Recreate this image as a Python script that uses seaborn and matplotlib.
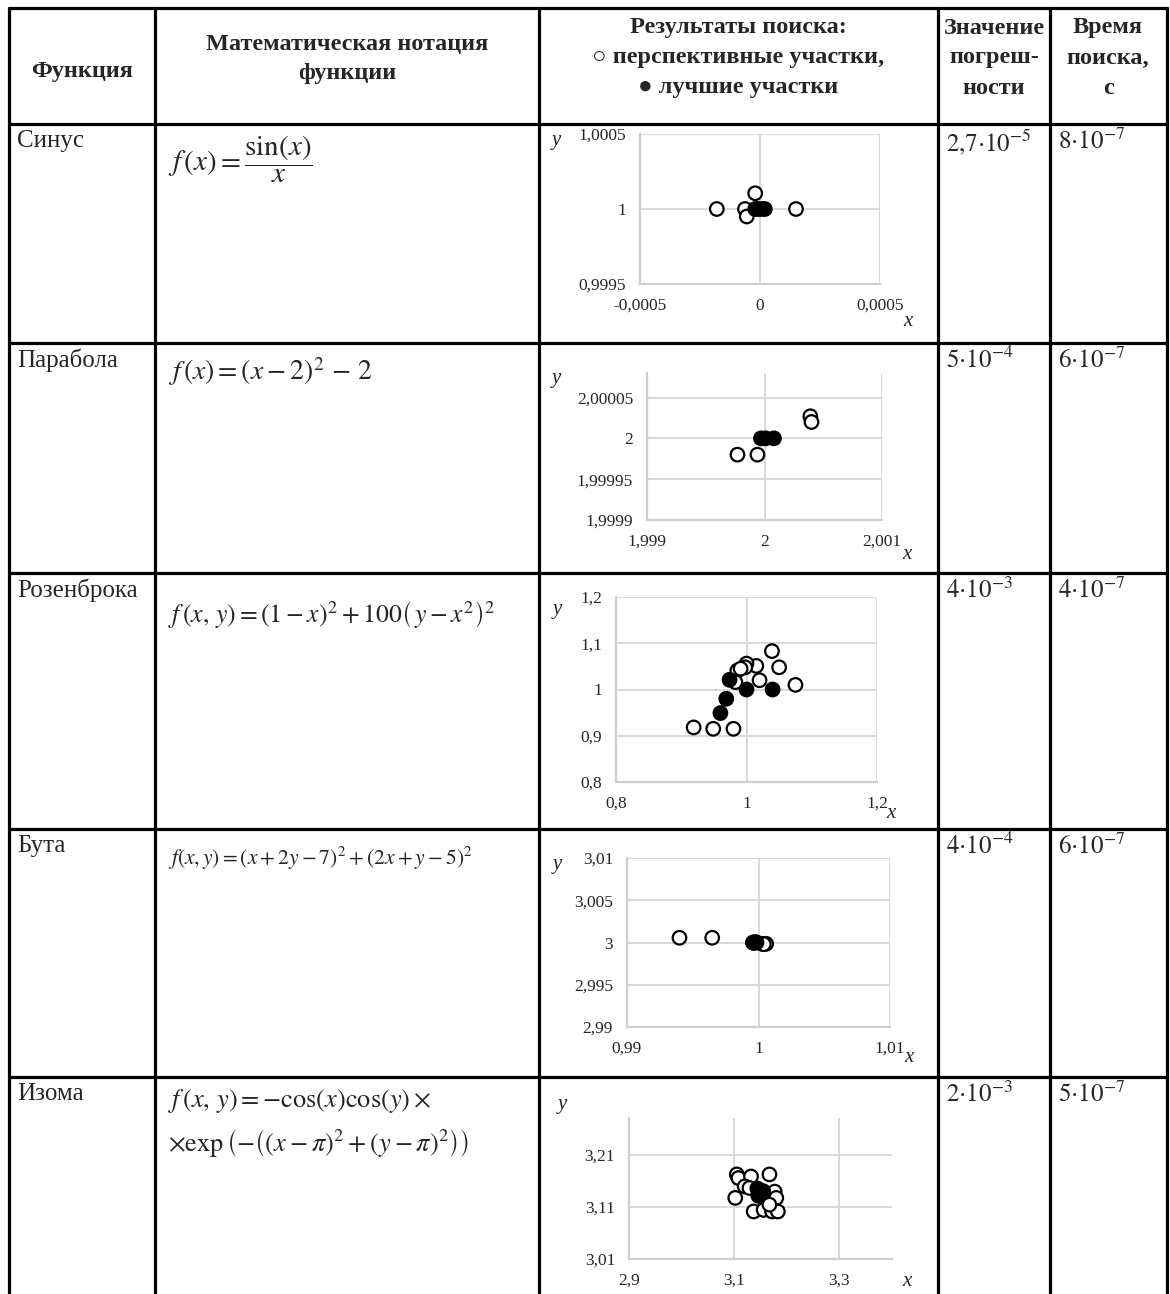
import numpy as np
import pandas as pd
import matplotlib
matplotlib.use("Agg")
import matplotlib.pyplot as plt
from matplotlib.lines import Line2D
import seaborn as sns

# ---------------- data ----------------
headers_col1 = ["Функция"]
headers_col2 = ["Математическая нотация", "функции"]
headers_col3 = ["Результаты поиска:", "○ перспективные участки,", "● лучшие участки"]
headers_col4 = ["Значение", "погреш-", "ности"]
headers_col5 = ["Время", "поиска,", "с"]

names = ["Синус", "Парабола", "Розенброка", "Бута", "Изома"]
errors = [r"$\mathrm{2{,}7{\cdot}10^{-5}}$", r"$\mathrm{5{\cdot}10^{-4}}$", r"$\mathrm{4{\cdot}10^{-3}}$",
          r"$\mathrm{4{\cdot}10^{-4}}$", r"$\mathrm{2{\cdot}10^{-3}}$"]
times = [r"$\mathrm{8{\cdot}10^{-7}}$", r"$\mathrm{6{\cdot}10^{-7}}$", r"$\mathrm{4{\cdot}10^{-7}}$",
         r"$\mathrm{6{\cdot}10^{-7}}$", r"$\mathrm{5{\cdot}10^{-7}}$"]
formulas = [
    [r"$f\,(x) = \dfrac{\sin(x)}{x}$"],
    [r"$f\,(x) = \left(x - 2\right)^{2}\, - \,2$"],
    [r"$f\,(x,\,y) = \left(1-x\right)^{2} + 100\left(\,y-x^{2}\right)^{2}$"],
    [r"$f(x,y) = \left(x+2y-7\right)^{2} + \left(2x+y-5\right)^{2}$"],
    [r"$f\,(x,\,y) = -\cos(x)\cos(y)\times$",
     r"$\times\exp\left(-\left(\left(x-\pi\right)^{2} + \left(y-\pi\right)^{2}\right)\right)$"],
]

# Sinus
sin_open_x = [-0.00018, -0.0000625, -0.000055, -0.00002, 0.00015]
sin_open_y = [1.0, 1.0, 0.99995, 1.000105, 1.0]
sin_best_x = [-0.00002, -0.000007, 0.000007, 0.00002]
sin_best_y = [1.0, 1.0, 1.0, 1.0]
sin_xticks = [-0.0005, 0.0, 0.0005]
sin_xlabels = ["-0,0005", "0", "0,0005"]
sin_yticks = [0.9995, 1.0, 1.0005]
sin_ylabels = ["0,9995", "1", "1,0005"]

# Parabola
par_open_x = [1.99977, 1.99994, 2.00039, 2.0004]
par_open_y = [1.99998, 1.99998, 2.000027, 2.00002]
par_best_x = [1.99997, 2.00001, 2.00008]
par_best_y = [2.0, 2.0, 2.0]
par_xticks = [1.999, 2.0, 2.001]
par_xlabels = ["1,999", "2", "2,001"]
par_yticks = [1.9999, 1.99995, 2.0, 2.00005]
par_ylabels = ["1,9999", "1,99995", "2", "2,00005"]

# Rosenbrock
ros_open_x = [1.039, 1.050, 1.015, 1.000, 0.998, 0.986, 0.991, 1.020, 1.075, 0.983, 0.919, 0.949, 0.980]
ros_open_y = [1.083, 1.048, 1.051, 1.056, 1.048, 1.041, 1.045, 1.020, 1.010, 1.016, 0.918, 0.915, 0.915]
ros_best_x = [0.974, 1.000, 1.040, 0.969, 0.960]
ros_best_y = [1.021, 1.000, 1.000, 0.980, 0.949]
ros_xticks = [0.8, 1.0, 1.2]
ros_xlabels = ["0,8", "1", "1,2"]
ros_yticks = [0.8, 0.9, 1.0, 1.1, 1.2]
ros_ylabels = ["0,8", "0,9", "1", "1,1", "1,2"]

# Booth
but_open_x = [0.99399, 0.99648, 1.00028, 1.00058, 1.00040]
but_open_y = [3.00056, 3.00056, 2.99985, 2.99985, 2.99980]
but_best_x = [0.99957, 0.99975, 0.99985, 0.99965]
but_best_y = [3.0, 3.00005, 3.0, 2.99995]
but_xticks = [0.99, 1.0, 1.01]
but_xlabels = ["0,99", "1", "1,01"]
but_yticks = [2.99, 2.995, 3.0, 3.005, 3.01]
but_ylabels = ["2,99", "2,995", "3", "3,005", "3,01"]

# Isom
izo_open_x = [3.105, 3.108, 3.132, 3.167, 3.120, 3.129, 3.177, 3.180, 3.102, 3.137, 3.156, 3.172, 3.183, 3.167]
izo_open_y = [3.172, 3.165, 3.168, 3.172, 3.149, 3.146, 3.139, 3.127, 3.127, 3.101, 3.104, 3.101, 3.101, 3.114]
izo_best_x = [3.144, 3.155, 3.146, 3.150]
izo_best_y = [3.145, 3.140, 3.131, 3.138]
izo_xticks = [2.9, 3.1, 3.3]
izo_xlabels = ["2,9", "3,1", "3,3"]
izo_yticks = [3.01, 3.11, 3.21]
izo_ylabels = ["3,01", "3,11", "3,21"]

# ---------------- style ----------------
sns.set_theme(style="white")
plt.rcParams["font.family"] = ["Liberation Serif", "DejaVu Serif"]
plt.rcParams["mathtext.fontset"] = "stix"

W, H = 1170, 1294
fig = plt.figure(figsize=(W / 100, H / 100), dpi=100)
fig.patch.set_facecolor("white")


def fx(x):
    return x / W


def fy(y):
    return 1 - y / H


# ---------------- table grid ----------------
cols = [9, 155, 539, 938, 1050, 1167]
rows = [8, 124, 343, 573, 829, 1077]
LW = 2.3
for x in cols:
    fig.add_artist(Line2D([fx(x), fx(x)], [fy(rows[0]), fy(1300)], color="black", lw=LW))
for y in rows:
    fig.add_artist(Line2D([fx(cols[0]), fx(cols[-1])], [fy(y), fy(y)], color="black", lw=LW))

HFS = 17.5
hb = dict(fontweight="bold", fontsize=HFS, ha="center", va="center")
fig.text(fx(82), fy(72), headers_col1[0], **hb)
for t, yy in zip(headers_col2, [44, 73]):
    fig.text(fx(347), fy(yy), t, **hb)
for col_x, lines in [(738, headers_col3), (994, headers_col4), (1108, headers_col5)]:
    for t, yy in zip(lines, [28, 58, 88]):
        fig.text(fx(col_x), fy(yy), t, **hb)

BFS = 18
for i, name in enumerate(names):
    top = rows[i + 1]
    fig.text(fx(17), fy(top + 6), name, fontsize=BFS, ha="left", va="top")
    fig.text(fx(946), fy(top + 4), errors[i], fontsize=BFS, ha="left", va="top")
    fig.text(fx(1058), fy(top + 4), times[i], fontsize=BFS, ha="left", va="top")

form_y = [[159], [372], [615], [858], [1101, 1143]]
form_fs = [21, 20, 18.5, 15.5, 19]
for i, fl in enumerate(formulas):
    for t, yy in zip(fl, form_y[i]):
        fig.text(fx(168), fy(yy), t, fontsize=form_fs[i], ha="left", va="center")


# ---------------- scatter panels ----------------
def panel(rect, ox, oy, bx, by, xlim, ylim, xt, xl, yt, yl, ylab_pos, xlab_pos):
    l, t, r, b = rect
    ax = fig.add_axes([fx(l), fy(b), (r - l) / W, (b - t) / H])
    df = pd.DataFrame({
        "x": list(ox) + list(bx),
        "y": list(oy) + list(by),
        "kind": ["open"] * len(ox) + ["best"] * len(bx),
    })
    sns.scatterplot(data=df, x="x", y="y", hue="kind",
                    palette={"open": "white", "best": "black"},
                    edgecolor="black", linewidth=1.6, s=95, legend=False,
                    ax=ax, zorder=3, clip_on=False)
    ax.set_xlim(*xlim)
    ax.set_ylim(*ylim)
    ax.set_xticks(xt)
    ax.set_xticklabels(xl)
    ax.set_yticks(yt)
    ax.set_yticklabels(yl)
    ax.set_xlabel("")
    ax.set_ylabel("")
    ax.grid(True, color="#d9d9d9", lw=1.4)
    ax.set_axisbelow(True)
    for s in ["top", "right"]:
        ax.spines[s].set_visible(False)
    for s in ["left", "bottom"]:
        ax.spines[s].set_color("#cfcfcf")
        ax.spines[s].set_linewidth(1.6)
    ax.tick_params(length=0, pad=10, labelsize=12.5)
    for lab in ax.get_xticklabels() + ax.get_yticklabels():
        lab.set_fontfamily(["Liberation Serif", "DejaVu Serif"])
    ax.set_facecolor("none")
    fig.text(fx(ylab_pos[0]), fy(ylab_pos[1]), "y", fontsize=15, style="italic",
             ha="center", va="center")
    fig.text(fx(xlab_pos[0]), fy(xlab_pos[1]), "x", fontsize=15, style="italic",
             ha="center", va="center")
    return ax


panel((640, 134, 880, 284), sin_open_x, sin_open_y, sin_best_x, sin_best_y,
      (-0.0005, 0.0005), (0.9995, 1.0005), sin_xticks, sin_xlabels, sin_yticks, sin_ylabels,
      (556, 140), (908, 322))
panel((647, 373, 882, 520), par_open_x, par_open_y, par_best_x, par_best_y,
      (1.999, 2.001), (1.9999, 2.00008), par_xticks, par_xlabels, par_yticks, par_ylabels,
      (556, 379), (907, 555))
panel((616, 597, 877, 782), ros_open_x, ros_open_y, ros_best_x, ros_best_y,
      (0.8, 1.2), (0.8, 1.2), ros_xticks, ros_xlabels, ros_yticks, ros_ylabels,
      (557, 609), (891, 814))
panel((627, 858, 890, 1027), but_open_x, but_open_y, but_best_x, but_best_y,
      (0.99, 1.01), (2.99, 3.01), but_xticks, but_xlabels, but_yticks, but_ylabels,
      (557, 865), (909, 1058))
panel((629, 1118, 892, 1259), izo_open_x, izo_open_y, izo_best_x, izo_best_y,
      (2.9, 3.4), (3.01, 3.28), izo_xticks, izo_xlabels, izo_yticks, izo_ylabels,
      (562, 1105), (907, 1282))

fig.savefig("out.png", dpi=100, facecolor="white")
